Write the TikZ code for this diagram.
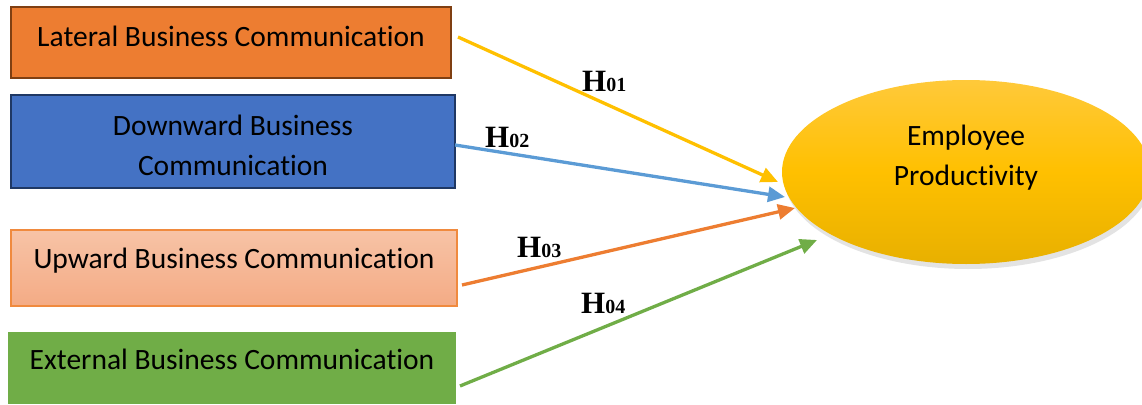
\documentclass[tikz,border=0pt]{standalone}
\usepackage{fontspec}
\setmainfont{Carlito}[Ligatures={NoCommon}]
\newfontfamily\hfont{Liberation Serif}
\usetikzlibrary{arrows.meta,shapes.geometric,shadows}
\definecolor{latfill}{HTML}{ED7D31}
\definecolor{latdraw}{HTML}{7F3F12}
\definecolor{downfill}{HTML}{4472C4}
\definecolor{downdraw}{HTML}{1F3864}
\definecolor{uptop}{HTML}{F7C3A6}
\definecolor{upbot}{HTML}{F4AB85}
\definecolor{updraw}{HTML}{F08A3E}
\definecolor{extfill}{HTML}{70AD47}
\definecolor{elltop}{HTML}{FFC93A}
\definecolor{ellmid}{HTML}{FFC000}
\definecolor{ellbot}{HTML}{E8B000}
\definecolor{ayellow}{HTML}{FFC000}
\definecolor{ablue}{HTML}{5B9BD5}
\definecolor{aorange}{HTML}{ED7D31}
\definecolor{agreen}{HTML}{70AD47}
\newcommand\hyplabel[1]{{\hfont\bfseries\fontsize{31}{31}\selectfont H\fontsize{20}{20}\selectfont #1}}
\tikzset{
  box/.style={rectangle, inner sep=0pt, font=\fontsize{29.5}{40}\selectfont, align=center, text=black},
  arr/.style={line width=3.3pt, -{Triangle[length=17pt,width=15pt]}},
  hyp/.style={anchor=base west, inner sep=0pt},
}
\begin{document}
\begin{tikzpicture}[x=1pt,y=-1pt]
\useasboundingbox (0,0) rectangle (1142,404);
\clip (0,0) rectangle (1142,404);
% boxes
\node[box, fill=latfill, draw=latdraw, line width=2pt, minimum width=440pt, minimum height=71pt,
      text height=20pt, text depth=11pt] (lat) at (231,42.5) {Lateral Business Communication};
\node[box, fill=downfill, draw=downdraw, line width=2pt, minimum width=444pt, minimum height=91pt,
      text height=80pt, text depth=13pt] (down) at (233,141.5) {Downward Business\\Communication};
\node[box, top color=uptop, bottom color=upbot, draw=updraw, line width=1.2pt, minimum width=446pt, minimum height=76pt,
      text height=15pt, text depth=15pt] (up) at (234,268) {Upward Business Communication};
\node[box, fill=extfill, minimum width=448pt, minimum height=72pt,
      text height=16pt, text depth=14pt] (ext) at (232,368) {External Business Communication};
% ellipse
\node[ellipse, inner sep=0pt, minimum width=368pt, minimum height=184pt,
      top color=elltop, bottom color=ellbot, middle color=ellmid,
      drop shadow={opacity=0.22, shadow xshift=2pt, shadow yshift=-5pt},
      font=\fontsize{29.5}{40}\selectfont, align=center, text height=60pt, text depth=33pt] (emp) at (966,172) {Employee\\Productivity};
% connector end points
\coordinate (s1) at (458,37);
\coordinate (e1) at (778,182);
\coordinate (s2) at (455,145);
\coordinate (e2) at (785,197);
\coordinate (s3) at (462,285);
\coordinate (e3) at (795,208);
\coordinate (s4) at (460,386);
\coordinate (e4) at (817,240);
\draw[arr, ayellow] (s1) -- (e1);
\draw[arr, ablue] (s2) -- (e2);
\draw[arr, aorange] (s3) -- (e3);
\draw[arr, agreen] (s4) -- (e4);
% labels
\node[hyp] (h1) at (582,92) {\hyplabel{01}};
\node[hyp] (h2) at (485,147) {\hyplabel{02}};
\node[hyp] (h3) at (517,257) {\hyplabel{03}};
\node[hyp] (h4) at (581,313) {\hyplabel{04}};
\end{tikzpicture}
\end{document}
